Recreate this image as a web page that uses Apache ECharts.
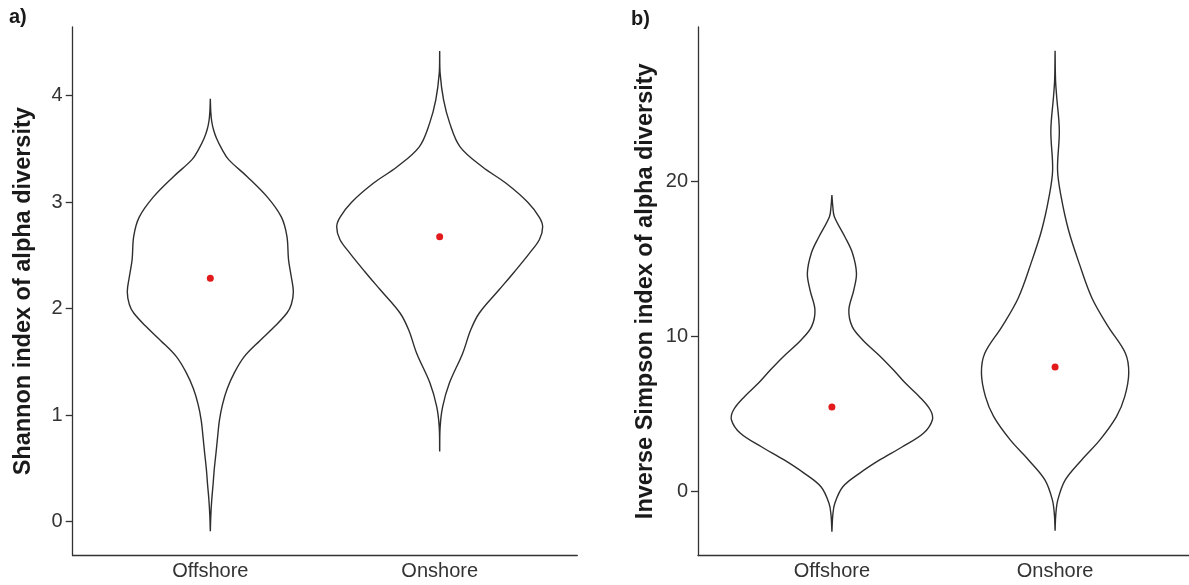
<!DOCTYPE html>
<html>
<head>
<meta charset="utf-8">
<script src="https://cdn.jsdelivr.net/npm/echarts@6/dist/echarts.min.js"></script>
<style>
html,body{margin:0;padding:0;background:#fff;}
#chart{width:1189px;height:585px;}
</style>
</head>
<body>
<div id="chart"></div>
<script>
// ---- data ----
const categories = ['Offshore', 'Onshore'];
const categoryPositions = [1, 2];
const shannonTicks = [0, 1, 2, 3, 4];
const simpsonTicks = [0, 10, 20];

// violin profiles: y value and half width (x-axis units), listed top to bottom
const shannonOffshoreY  = [3.97, 3.85, 3.76, 3.68, 3.60, 3.50, 3.40, 3.24, 3.05, 2.86, 2.68, 2.46, 2.30, 2.16, 2.04, 1.96, 1.83, 1.70, 1.55, 1.40, 1.25, 1.10, 0.95, 0.80, 0.65, 0.50, 0.35, 0.20, 0.05, -0.09];
const shannonOffshoreHW = [0, 0.002, 0.006, 0.014, 0.027, 0.050, 0.080, 0.161, 0.248, 0.310, 0.334, 0.341, 0.353, 0.362, 0.353, 0.334, 0.279, 0.216, 0.148, 0.105, 0.074, 0.053, 0.0395, 0.032, 0.025, 0.0175, 0.012, 0.006, 0.002, 0];

const shannonOnshoreY  = [4.42, 4.21, 3.96, 3.74, 3.52, 3.33, 3.18, 3.00, 2.86, 2.77, 2.65, 2.52, 2.35, 2.18, 1.96, 1.80, 1.58, 1.30, 1.08, 0.89, 0.66];
const shannonOnshoreHW = [0, 0.002, 0.017, 0.044, 0.089, 0.187, 0.288, 0.384, 0.434, 0.449, 0.435, 0.391, 0.327, 0.260, 0.173, 0.135, 0.100, 0.042, 0.013, 0.002, 0];

const simpsonOffshoreY  = [19.14, 18.4, 17.74, 16.45, 15.4, 14.09, 13.0, 11.72, 10.65, 9.79, 8.71, 7.85, 6.99, 6.13, 5.27, 4.63, 3.77, 2.90, 2.05, 1.20, 0.32, -0.75, -1.5, -2.58];
const simpsonOffshoreHW = [0, 0.004, 0.011, 0.058, 0.092, 0.110, 0.098, 0.076, 0.091, 0.138, 0.218, 0.276, 0.330, 0.392, 0.441, 0.450, 0.410, 0.316, 0.214, 0.125, 0.049, 0.013, 0.004, 0];

const simpsonOnshoreY  = [28.45, 26.56, 25.5, 23.3, 20.75, 19.03, 16.88, 14.73, 12.5, 10.65, 8.93, 7.64, 6.13, 4.84, 3.34, 2.05, 0.75, -0.54, -1.5, -2.52];
const simpsonOnshoreHW = [0, 0.002, 0.007, 0.019, 0.011, 0.027, 0.060, 0.108, 0.165, 0.238, 0.315, 0.330, 0.312, 0.275, 0.201, 0.119, 0.045, 0.012, 0.003, 0];

const shannonMeans = [2.285, 2.676];
const simpsonMeans = [5.46, 8.05];

// ---- chart ----
const chart = echarts.init(document.getElementById('chart'), null, {renderer: 'canvas'});
const FONT = '"Liberation Sans", Arial, Helvetica, sans-serif';
const AXIS_COLOR = '#333333';
const LINE_COLOR = '#2e2e2e';

function violinSeries(axisIndex, center, ys, hws) {
  return {
    type: 'custom',
    xAxisIndex: axisIndex,
    yAxisIndex: axisIndex,
    data: [[center, ys[0]]],
    silent: true,
    renderItem: function (params, api) {
      const pts = [];
      for (let i = ys.length - 1; i >= 0; i--) pts.push(api.coord([center + hws[i], ys[i]]));
      for (let i = 0; i < ys.length; i++) pts.push(api.coord([center - hws[i], ys[i]]));
      return {
        type: 'polygon',
        shape: {points: pts, smooth: 0.35},
        style: {fill: 'none', stroke: LINE_COLOR, lineWidth: 1.4}
      };
    }
  };
}

function xAxis(gridIndex) {
  return {
    type: 'value', gridIndex: gridIndex, min: 0.4, max: 2.6,
    axisLine: {show: true, onZero: false, lineStyle: {color: AXIS_COLOR, width: 1.3}},
    axisTick: {show: false},
    splitLine: {show: false},
    axisLabel: {
      customValues: categoryPositions,
      formatter: function (v) { const i = categoryPositions.indexOf(Math.round(v)); return i >= 0 ? categories[i] : ''; },
      color: '#333', fontSize: 20, fontFamily: FONT, margin: 6
    }
  };
}

function yAxis(gridIndex, min, max, ticks, name, gap) {
  return {
    type: 'value', gridIndex: gridIndex, min: min, max: max,
    name: name, nameLocation: 'middle', nameGap: gap, nameRotate: 90,
    nameTextStyle: {fontSize: 23.5, fontWeight: 'bold', color: '#1a1a1a', fontFamily: FONT},
    axisLine: {show: true, onZero: false, lineStyle: {color: AXIS_COLOR, width: 1.3}},
    axisTick: {show: true, length: 7, customValues: ticks, lineStyle: {color: AXIS_COLOR, width: 1.3}},
    splitLine: {show: false},
    axisLabel: {customValues: ticks, color: '#333', fontSize: 20, fontFamily: FONT, margin: 10}
  };
}

const option = {
  animation: false,
  backgroundColor: '#ffffff',
  grid: [
    {left: 72.7, top: 27, width: 504.6, height: 528.5},
    {left: 698, top: 27, width: 493, height: 528.5}
  ],
  xAxis: [xAxis(0), xAxis(1)],
  yAxis: [
    yAxis(0, -0.317, 4.645, shannonTicks, 'Shannon index of alpha diversity', 37),
    yAxis(1, -4.116, 29.98, simpsonTicks, 'Inverse Simpson index of alpha diversity', 40)
  ],
  graphic: [
    {type: 'text', left: 9, top: 7, style: {text: 'a)', font: 'bold 20px ' + FONT, fill: '#1a1a1a'}},
    {type: 'text', left: 631, top: 9, style: {text: 'b)', font: 'bold 20px ' + FONT, fill: '#1a1a1a'}}
  ],
  series: [
    violinSeries(0, categoryPositions[0], shannonOffshoreY, shannonOffshoreHW),
    violinSeries(0, categoryPositions[1], shannonOnshoreY, shannonOnshoreHW),
    violinSeries(1, categoryPositions[0], simpsonOffshoreY, simpsonOffshoreHW),
    violinSeries(1, categoryPositions[1], simpsonOnshoreY, simpsonOnshoreHW),
    {
      type: 'scatter', xAxisIndex: 0, yAxisIndex: 0, symbolSize: 7, silent: true,
      itemStyle: {color: '#e31a1c', opacity: 1},
      data: categoryPositions.map(function (c, i) { return [c, shannonMeans[i]]; })
    },
    {
      type: 'scatter', xAxisIndex: 1, yAxisIndex: 1, symbolSize: 7, silent: true,
      itemStyle: {color: '#e31a1c', opacity: 1},
      data: categoryPositions.map(function (c, i) { return [c, simpsonMeans[i]]; })
    }
  ]
};
chart.setOption(option);
</script>
</body>
</html>
